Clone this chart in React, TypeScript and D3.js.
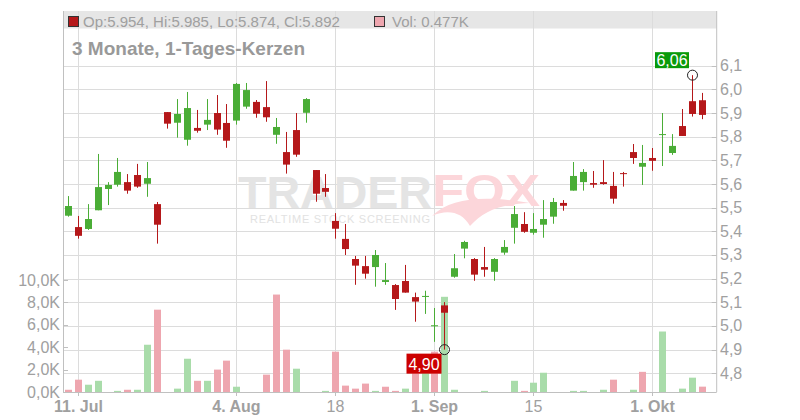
import React from "react";
import * as d3 from "d3";

// ---- data ----
const OPEN = [5.466,5.418,5.410,5.489,5.579,5.597,5.608,5.638,5.601,5.515,5.904,5.859,5.787,5.837,5.851,5.900,5.858,5.868,5.927,5.947,5.925,5.808,5.735,5.828,5.901,5.659,5.583,5.444,5.368,5.283,5.253,5.249,5.186,5.173,5.190,5.122,5.123,5.000,5.087,5.208,5.327,5.283,5.249,5.229,5.310,5.415,5.431,5.394,5.428,5.462,5.520,5.572,5.608,5.604,5.608,5.592,5.646,5.735,5.673,5.710,5.808,5.731,5.845,5.950,5.954];
const HIGH = [5.549,5.465,5.515,5.727,5.608,5.710,5.642,5.685,5.693,5.524,5.904,5.959,5.989,5.913,5.959,5.976,5.938,6.027,6.027,5.955,6.035,5.879,5.820,5.900,5.963,5.659,5.642,5.477,5.431,5.296,5.296,5.321,5.266,5.177,5.258,5.141,5.149,5.076,5.101,5.304,5.360,5.287,5.334,5.287,5.363,5.507,5.481,5.477,5.532,5.541,5.532,5.693,5.663,5.655,5.701,5.651,5.651,5.769,5.765,5.752,5.900,5.811,5.917,6.060,5.985];
const LOW = [5.462,5.369,5.406,5.489,5.511,5.589,5.559,5.584,5.546,5.348,5.834,5.796,5.762,5.817,5.828,5.808,5.753,5.851,5.918,5.880,5.863,5.770,5.644,5.715,5.859,5.525,5.546,5.369,5.300,5.174,5.200,5.166,5.174,5.068,5.141,5.018,5.051,4.933,4.900,5.204,5.286,5.191,5.208,5.191,5.301,5.348,5.394,5.386,5.373,5.432,5.487,5.572,5.572,5.584,5.597,5.517,5.589,5.685,5.596,5.656,5.676,5.723,5.803,5.885,5.874];
const CLOSE = [5.507,5.381,5.452,5.587,5.596,5.651,5.572,5.589,5.625,5.428,5.855,5.896,5.921,5.825,5.871,5.830,5.783,6.023,5.997,5.897,5.882,5.841,5.682,5.724,5.959,5.559,5.567,5.411,5.325,5.255,5.221,5.300,5.194,5.114,5.141,5.103,5.127,5.003,5.056,5.244,5.355,5.217,5.238,5.283,5.334,5.473,5.398,5.410,5.452,5.524,5.508,5.634,5.651,5.597,5.600,5.538,5.643,5.710,5.689,5.698,5.811,5.761,5.803,5.896,5.892];
const VOLUME_K = [0.2,1.1,0.65,1.0,0,0.1,0.2,0.2,4.22,7.35,0,0.3,2.97,1.0,1.0,2.0,2.8,0.47,0,0,1.55,8.7,3.78,2.08,0,0,0.1,3.6,0.57,0.3,0.75,0.1,0.47,0.1,0.3,1.7,1.7,3.6,8.5,0.2,0,0,0.1,0,0,1.0,0.1,0.83,1.72,0,0,0.1,0.1,0,0.2,1.1,0,0.2,1.8,0,5.4,0,0.3,1.28,0.477];
const PREV_CLOSE = 5.52;

const PRICE_TICKS = [4.8,4.9,5.0,5.1,5.2,5.3,5.4,5.5,5.6,5.7,5.8,5.9,6.0,6.1];
const VOL_TICKS = [0,2,4,6,8,10];
const X_TICK_INDEX = [1,17,27,37,47,59];
const X_TICK_LABELS = ["11. Jul","4. Aug","18","1. Sep","15","1. Okt"];
const X_TICK_BOLD = [true,true,false,true,false,true];

const HIGH_MARK = { index: 63, value: 6.06, label: "6,06" };
const LOW_MARK = { index: 38, value: 4.90, label: "4,90" };

const LEGEND_TEXT = "Op:5.954, Hi:5.985, Lo:5.874, Cl:5.892";
const VOL_TEXT = "Vol: 0.477K";
const TITLE = "3 Monate, 1-Tages-Kerzen";

// ---- styles ----
const FONT = "'Liberation Sans', Arial, Helvetica, sans-serif";
const UP = "#4aad36";
const DOWN = "#b5181a";
const VOL_UP = "#a9dcaa";
const VOL_DOWN = "#eea6af";
const GRID = "#dcdcdc";
const AXIS = "#c0c0c0";
const TXT = "#a0a0a0";

const L = 63, R = 716.7, BOTTOM = 392, TOP = 11;

export default function App() {
  const n = CLOSE.length;
  const x = d3.scaleLinear().domain([-0.5, 65.5]).range([L, R]);
  const y = d3.scaleLinear().domain([4.8, 6.1]).range([373.3, 65.7]);
  const yv = d3.scaleLinear().domain([0, 10]).range([BOTTOM, 280]);
  const fmtPrice = (v: number) => d3.format(".1f")(v).replace(".", ",");
  const fmtVol = (v: number) => d3.format(".1f")(v).replace(".", ",") + "K";
  const idx = d3.range(n);
  const cx = (i: number) => Math.round(x(i));

  const hx = cx(HIGH_MARK.index) + 0.5, hy = y(HIGH_MARK.value);
  const lx = cx(LOW_MARK.index) + 0.5, ly = y(LOW_MARK.value);

  return (
    <svg width={800} height={420} style={{ position: "absolute", left: 0, top: 0, background: "#fff" }} fontFamily={FONT}>
      {/* header band */}
      <rect x={L} y={TOP} width={R - L} height={17.5} fill="#e6e6e6" />
      {/* horizontal grid */}
      {PRICE_TICKS.map((t) => (
        <line key={"g" + t} x1={L} x2={R} y1={Math.round(y(t)) + 0.5} y2={Math.round(y(t)) + 0.5} stroke={GRID} strokeWidth={1} />
      ))}
      {/* vertical grid */}
      {X_TICK_INDEX.map((t) => (
        <line key={"v" + t} x1={cx(t) + 0.5} x2={cx(t) + 0.5} y1={TOP} y2={BOTTOM} stroke={GRID} strokeWidth={1} />
      ))}

      {/* watermark */}
      <g>
        <text x={238} y={208} fontSize={44} fontWeight="bold" fill="#e4e4e4" textLength={194} lengthAdjust="spacingAndGlyphs">TRADER</text>
        <text x={432} y={206} fontSize={44} fontWeight="bold" fill="#fcd6da" textLength={108} lengthAdjust="spacingAndGlyphs">FOX</text>
        <path d="M432 216 C452 196 488 196 530 203 C502 204 484 210 470 226 C462 212 448 209 432 216 Z" fill="#fcd6da" />
        <text x={250} y={223} fontSize={11} fill="#e2e2e2" textLength={180} lengthAdjust="spacing">REALTIME STOCK SCREENING</text>
      </g>

      {/* volume bars */}
      {idx.map((i) => {
        const v = VOLUME_K[i];
        if (v <= 0) return null;
        const prev = i === 0 ? PREV_CLOSE : CLOSE[i - 1];
        const up = CLOSE[i] >= prev;
        const top = yv(v);
        return <rect key={"vol" + i} x={cx(i) - 3} y={top} width={7} height={BOTTOM - top} fill={up ? VOL_UP : VOL_DOWN} />;
      })}

      {/* candles */}
      {idx.map((i) => {
        const o = OPEN[i], c = CLOSE[i];
        const up = c >= o;
        const col = up ? UP : DOWN;
        const bt = y(Math.max(o, c)), bb = y(Math.min(o, c));
        const xc = cx(i) + 0.5;
        return (
          <g key={"c" + i}>
            <line x1={xc} x2={xc} y1={y(HIGH[i])} y2={y(LOW[i])} stroke={col} strokeWidth={1} />
            <rect x={cx(i) - 3} y={bt} width={7} height={Math.max(1, bb - bt)} fill={col} />
          </g>
        );
      })}

      {/* axes lines */}
      <line x1={L + 0.5} x2={L + 0.5} y1={TOP} y2={BOTTOM} stroke={AXIS} />
      <line x1={R} x2={R} y1={TOP} y2={BOTTOM} stroke={AXIS} />
      <line x1={L} x2={R} y1={BOTTOM + 0.5} y2={BOTTOM + 0.5} stroke={AXIS} />

      {/* right price axis */}
      {PRICE_TICKS.map((t) => (
        <g key={"pt" + t}>
          <line x1={R - 5} x2={R} y1={Math.round(y(t)) + 0.5} y2={Math.round(y(t)) + 0.5} stroke={AXIS} />
          <text x={720} y={y(t) + 5.5} fontSize={16} fill={TXT}>{fmtPrice(t)}</text>
        </g>
      ))}
      {/* left volume axis */}
      {VOL_TICKS.map((t) => (
        <g key={"vt" + t}>
          <line x1={L} x2={L + 5} y1={Math.round(yv(t)) + 0.5} y2={Math.round(yv(t)) + 0.5} stroke={AXIS} />
          <text x={60} y={yv(t) + 5.5} fontSize={16} fill={TXT} textAnchor="end">{fmtVol(t)}</text>
        </g>
      ))}
      {/* x axis labels */}
      {X_TICK_INDEX.map((t, k) => (
        <g key={"xt" + t}>
          <line x1={cx(t) + 0.5} x2={cx(t) + 0.5} y1={BOTTOM} y2={BOTTOM + 4} stroke={AXIS} />
          <text x={cx(t) + 0.5} y={411.5} fontSize={16} fill={TXT} textAnchor="middle" fontWeight={X_TICK_BOLD[k] ? "bold" : "normal"}>{X_TICK_LABELS[k]}</text>
        </g>
      ))}

      {/* high / low markers */}
      <rect x={hx - 37.5} y={hy - 23} width={34} height={16} fill="#0a9a0a" />
      <text x={hx - 20.5} y={hy - 9.5} fontSize={16} fill="#fff" textAnchor="middle">{HIGH_MARK.label}</text>
      <circle cx={hx} cy={hy} r={5} fill="none" stroke="#222" strokeWidth={1} />
      <rect x={lx - 38} y={ly + 4} width={35} height={20} fill="#cc0000" />
      <text x={lx - 20.5} y={ly + 20} fontSize={16} fill="#fff" textAnchor="middle">{LOW_MARK.label}</text>
      <circle cx={lx} cy={ly} r={5} fill="none" stroke="#222" strokeWidth={1} />

      {/* legend */}
      <rect x={68.5} y={16.5} width={10} height={10} fill={DOWN} stroke="#333" />
      <text x={83} y={26.5} fontSize={15} fill={TXT}>{LEGEND_TEXT}</text>
      <rect x={374.5} y={16.5} width={10} height={10} fill={VOL_DOWN} stroke="#333" />
      <text x={392} y={26.5} fontSize={15} fill={TXT}>{VOL_TEXT}</text>

      {/* title */}
      <text x={72} y={54.5} fontSize={19} fontWeight="bold" fill="#999">{TITLE}</text>
    </svg>
  );
}
